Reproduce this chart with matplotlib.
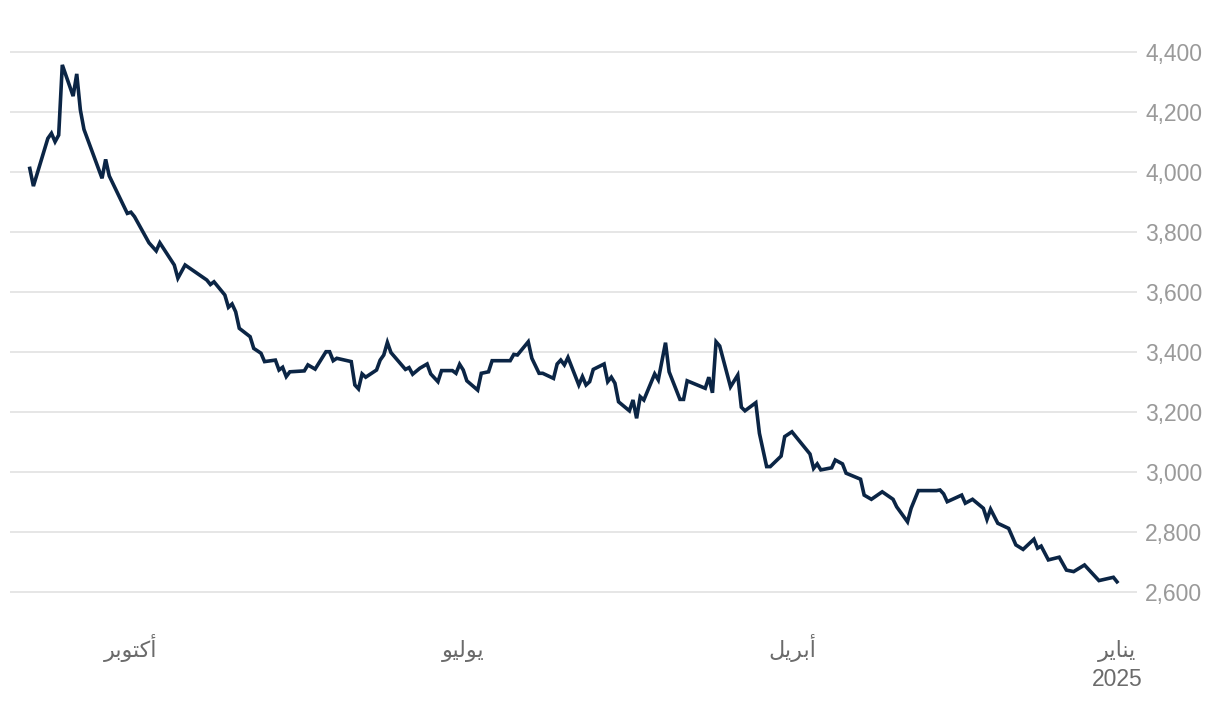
import matplotlib
matplotlib.use("Agg")
import matplotlib.pyplot as plt
import matplotlib.dates as mdates
import matplotlib.transforms as mtransforms
import pandas as pd

# gold price (earliest -> latest)
dates = [
    "2025-01-01", "2025-01-02", "2025-01-06", "2025-01-10", "2025-01-13", "2025-01-15",
    "2025-01-17", "2025-01-20", "2025-01-22", "2025-01-23", "2025-01-24", "2025-01-27",
    "2025-01-29", "2025-01-31", "2025-02-03", "2025-02-05", "2025-02-06", "2025-02-07",
    "2025-02-10", "2025-02-12", "2025-02-13", "2025-02-17", "2025-02-18", "2025-02-19",
    "2025-02-20", "2025-02-25", "2025-02-27", "2025-02-28", "2025-03-03", "2025-03-04",
    "2025-03-07", "2025-03-10", "2025-03-12", "2025-03-13", "2025-03-17", "2025-03-18",
    "2025-03-20", "2025-03-21", "2025-03-24", "2025-03-25", "2025-03-26", "2025-03-27",
    "2025-04-01", "2025-04-03", "2025-04-04", "2025-04-07", "2025-04-08", "2025-04-10",
    "2025-04-11", "2025-04-14", "2025-04-15", "2025-04-16", "2025-04-18", "2025-04-21",
    "2025-04-22", "2025-04-23", "2025-04-24", "2025-04-25", "2025-04-30", "2025-05-01",
    "2025-05-02", "2025-05-05", "2025-05-06", "2025-05-08", "2025-05-09", "2025-05-12",
    "2025-05-13", "2025-05-14", "2025-05-15", "2025-05-16", "2025-05-19", "2025-05-20",
    "2025-05-21", "2025-05-22", "2025-05-23", "2025-05-26", "2025-05-27", "2025-05-28",
    "2025-05-29", "2025-05-30", "2025-06-02", "2025-06-03", "2025-06-04", "2025-06-05",
    "2025-06-06", "2025-06-09", "2025-06-10", "2025-06-12", "2025-06-13", "2025-06-16",
    "2025-06-17", "2025-06-18", "2025-06-23", "2025-06-24", "2025-06-26", "2025-06-27",
    "2025-06-30", "2025-07-01", "2025-07-02", "2025-07-03", "2025-07-04", "2025-07-07",
    "2025-07-08", "2025-07-10", "2025-07-11", "2025-07-13", "2025-07-15", "2025-07-16",
    "2025-07-17", "2025-07-21", "2025-07-22", "2025-07-23", "2025-07-24", "2025-07-25",
    "2025-07-28", "2025-07-29", "2025-07-30", "2025-07-31", "2025-08-01", "2025-08-05",
    "2025-08-06", "2025-08-07", "2025-08-08", "2025-08-11", "2025-08-13", "2025-08-14",
    "2025-08-18", "2025-08-19", "2025-08-20", "2025-08-21", "2025-08-22", "2025-08-25",
    "2025-08-26", "2025-08-28", "2025-08-29", "2025-09-01", "2025-09-02", "2025-09-03",
    "2025-09-04", "2025-09-05", "2025-09-08", "2025-09-09", "2025-09-10", "2025-09-16",
    "2025-09-18", "2025-09-19", "2025-09-23", "2025-09-24", "2025-09-26", "2025-09-30",
    "2025-10-01", "2025-10-02", "2025-10-07", "2025-10-08", "2025-10-09", "2025-10-14",
    "2025-10-15", "2025-10-16", "2025-10-17", "2025-10-20", "2025-10-21", "2025-10-22",
    "2025-10-23", "2025-10-24", "2025-10-28", "2025-10-29",
]
prices = [
    2634, 2649, 2638, 2690, 2668, 2673,
    2716, 2707, 2753, 2746, 2776, 2742,
    2757, 2812, 2829, 2876, 2842, 2879,
    2909, 2896, 2923, 2901, 2927, 2940,
    2938, 2938, 2879, 2834, 2884, 2909,
    2934, 2909, 2923, 2976, 2996, 3027,
    3040, 3014, 3007, 3027, 3012, 3060,
    3134, 3118, 3053, 3018, 3018, 3129,
    3231, 3204, 3216, 3323, 3284, 3420,
    3434, 3264, 3316, 3279, 3304, 3242,
    3242, 3334, 3431, 3307, 3327, 3240,
    3251, 3179, 3240, 3204, 3234, 3296,
    3316, 3301, 3360, 3342, 3301, 3290,
    3318, 3290, 3382, 3357, 3373, 3360,
    3312, 3329, 3329, 3379, 3434, 3390,
    3392, 3371, 3371, 3334, 3329, 3273,
    3304, 3340, 3359, 3329, 3338, 3338,
    3301, 3327, 3360, 3346, 3326, 3348,
    3342, 3398, 3432, 3390, 3373, 3340,
    3316, 3327, 3277, 3290, 3368, 3379,
    3371, 3401, 3401, 3343, 3357, 3337,
    3334, 3318, 3349, 3340, 3373, 3368,
    3396, 3412, 3451, 3479, 3534, 3560,
    3549, 3590, 3634, 3625, 3640, 3690,
    3646, 3690, 3764, 3737, 3764, 3851,
    3866, 3862, 3987, 4042, 3979, 4142,
    4207, 4327, 4253, 4357, 4123, 4101,
    4129, 4112, 3953, 4012,
]

y_ticks = [2600, 2800, 3000, 3200, 3400, 3600, 3800, 4000, 4200, 4400]
month_ticks = ["2025-01-01", "2025-04-01", "2025-07-01", "2025-10-01"]
month_names = ["يناير", "أبريل", "يوليو", "أكتوبر"]
year_label = "2025"

# matplotlib has no Arabic shaping, so pick the joined glyph forms by hand
FORMS = {
    "ا": ("\uFE8D", "\uFE8E", None, None),
    "أ": ("\uFE83", "\uFE84", None, None),
    "ب": ("\uFE8F", "\uFE90", "\uFE91", "\uFE92"),
    "ت": ("\uFE95", "\uFE96", "\uFE97", "\uFE98"),
    "ر": ("\uFEAD", "\uFEAE", None, None),
    "ك": ("\uFED9", "\uFEDA", "\uFEDB", "\uFEDC"),
    "ل": ("\uFEDD", "\uFEDE", "\uFEDF", "\uFEE0"),
    "ن": ("\uFEE5", "\uFEE6", "\uFEE7", "\uFEE8"),
    "و": ("\uFEED", "\uFEEE", None, None),
    "ي": ("\uFEF1", "\uFEF2", "\uFEF3", "\uFEF4"),
}


def shape_ar(word):
    out = []
    n = len(word)
    for i, ch in enumerate(word):
        iso, fin, ini, med = FORMS[ch]
        prev_joins = i > 0 and FORMS[word[i - 1]][2] is not None
        next_joins = i < n - 1 and ini is not None
        if prev_joins and next_joins:
            out.append(med)
        elif prev_joins:
            out.append(fin)
        elif next_joins:
            out.append(ini)
        else:
            out.append(iso)
    return "".join(reversed(out))


x = pd.to_datetime(dates)
tick_x = pd.to_datetime(month_ticks)

W, H = 1220, 704
fig = plt.figure(figsize=(W / 100, H / 100), dpi=100)
ax = fig.add_axes([10 / W, 92 / H, 1127 / W, 582 / H])

ax.plot(x, prices, color="#0b2545", linewidth=2.6, solid_joinstyle="miter", zorder=3)

jan1 = mdates.date2num(pd.Timestamp("2025-01-01"))
px_per_day = 3.612
ax.set_xlim(jan1 + (1117 - 10) / px_per_day, jan1 - (1137 - 1117) / px_per_day)
ax.set_ylim(2600 - 20 / 0.3, 4400 + 22 / 0.3)

for s in ax.spines.values():
    s.set_visible(False)

ax.yaxis.tick_right()
ax.set_yticks(y_ticks)
ax.set_yticklabels([f"{v:,}" for v in y_ticks])
ax.tick_params(axis="y", length=0, pad=6, labelsize=16.5, labelcolor="#9a9a9a")
for lab in ax.get_yticklabels():
    lab.set_family("Liberation Sans")
ax.grid(axis="y", color="#e2e2e2", linewidth=1.2, zorder=0)

# month labels drawn by hand so they share one baseline
ax.set_xticks([])
trans = mtransforms.blended_transform_factory(ax.transData, fig.transFigure)
for tx, name in zip(tick_x, month_names):
    ax.text(tx, 1 - 657 / H, shape_ar(name), transform=trans, ha="center",
            va="baseline", fontsize=16, color="#6b6b6b", family="DejaVu Sans")
ax.text(tick_x[0], 1 - 686 / H, year_label, transform=trans, ha="center",
        va="baseline", fontsize=16.5, color="#6b6b6b", family="Liberation Sans")

fig.savefig("out.png", dpi=100)
